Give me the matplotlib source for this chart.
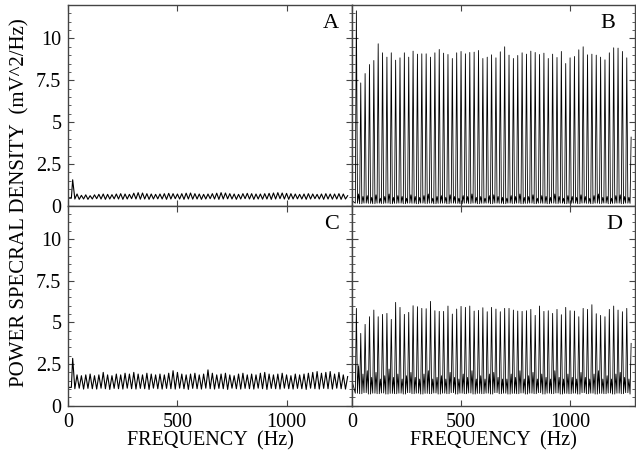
import numpy as np
import matplotlib
matplotlib.use("Agg")
import matplotlib.pyplot as plt
from matplotlib.ticker import MultipleLocator

plt.rcParams["font.family"] = ["Liberation Serif", "DejaVu Serif"]

# harmonic frequencies (Hz) of the spectral peaks
freqs = np.arange(20, 1300, 20)

# panel A: peak and trough values (mV^2/Hz)
A_start = 0.45
A_peaks = [1.55, 0.70, 0.62, 0.65, 0.60, 0.65, 0.68, 0.70, 0.68, 0.66,
           0.70, 0.72, 0.70, 0.68, 0.75, 0.78, 0.76, 0.72, 0.70, 0.68,
           0.70, 0.72, 0.74, 0.72, 0.70, 0.72, 0.75, 0.76, 0.72, 0.70,
           0.68, 0.70, 0.72, 0.75, 0.78, 0.76, 0.72, 0.70, 0.68, 0.72,
           0.74, 0.72, 0.70, 0.70, 0.72, 0.74, 0.76, 0.78, 0.76, 0.74,
           0.72, 0.70, 0.68, 0.70, 0.72, 0.70, 0.68, 0.70, 0.72, 0.70,
           0.70, 0.72, 0.70, 0.60]
A_troughs = [0.40, 0.38, 0.40, 0.38, 0.40, 0.42, 0.40, 0.38, 0.40, 0.41,
             0.40, 0.38, 0.40, 0.42, 0.40, 0.39, 0.40, 0.38, 0.40, 0.41,
             0.40, 0.38, 0.40, 0.42, 0.40, 0.38, 0.40, 0.39, 0.40, 0.38,
             0.40, 0.42, 0.40, 0.38, 0.40, 0.41, 0.40, 0.38, 0.40, 0.42,
             0.40, 0.38, 0.40, 0.39, 0.40, 0.38, 0.40, 0.42, 0.40, 0.38,
             0.40, 0.41, 0.40, 0.38, 0.40, 0.42, 0.40, 0.38, 0.40, 0.39,
             0.40, 0.38, 0.40, 0.42]

# panel C
C_start = 1.10
C_peaks = [2.84, 1.85, 1.80, 1.85, 1.90, 1.80, 1.85, 2.00, 1.85, 1.80,
           1.90, 1.85, 1.95, 1.90, 2.00, 1.90, 1.85, 1.95, 1.90, 1.85,
           1.90, 1.85, 1.95, 2.10, 2.00, 1.90, 1.85, 1.90, 1.95, 1.85,
           1.90, 2.15, 1.95, 1.85, 1.90, 1.95, 1.85, 1.80, 1.90, 1.95,
           1.85, 1.90, 1.85, 1.95, 2.00, 1.90, 1.85, 1.90, 1.95, 1.85,
           1.80, 1.90, 1.85, 1.90, 1.95, 2.00, 2.05, 1.95, 2.00, 2.05,
           1.90, 2.00, 1.85, 1.75]
C_troughs = [1.02, 1.05, 1.00, 1.04, 1.02, 1.00, 1.05, 1.02, 0.98, 1.04,
             1.02, 1.00, 1.05, 1.02, 1.00, 1.04, 1.02, 0.98, 1.05, 1.02,
             1.00, 1.04, 1.02, 1.00, 1.05, 1.02, 0.98, 1.04, 1.02, 1.00,
             1.05, 1.02, 1.00, 1.04, 1.02, 0.98, 1.05, 1.02, 1.00, 1.04,
             1.02, 1.00, 1.05, 1.02, 0.98, 1.04, 1.02, 1.00, 1.05, 1.02,
             1.00, 1.04, 1.02, 0.98, 1.05, 1.02, 1.00, 1.04, 1.02, 1.00,
             1.05, 1.02, 1.00, 1.04]

# panel B: sharp peaks, floor and small side bumps
B_start = 0.30
B_peaks = [11.65, 7.34, 7.90, 8.44, 8.68, 9.68, 9.14, 8.88, 9.14, 8.70,
           8.84, 9.14, 8.88, 9.24, 9.06, 9.08, 9.08, 8.88, 9.14, 9.34,
           9.12, 9.04, 8.80, 9.14, 9.22, 9.08, 9.16, 9.18, 9.28, 8.80,
           8.88, 9.02, 8.84, 9.20, 9.50, 9.00, 8.80, 8.98, 9.14, 9.06,
           9.24, 9.16, 9.04, 9.12, 8.80, 9.06, 8.86, 9.22, 8.50, 8.84,
           8.92, 9.32, 9.50, 9.02, 9.06, 9.00, 8.88, 8.72, 9.14, 9.44,
           9.42, 9.22, 8.84, 4.10]
B_floor = [0.15, 0.12, 0.15, 0.14, 0.12, 0.15, 0.13, 0.15, 0.12, 0.14,
           0.15, 0.12, 0.15, 0.14, 0.12, 0.15, 0.13, 0.15, 0.12, 0.14,
           0.15, 0.12, 0.15, 0.14, 0.12, 0.15, 0.13, 0.15, 0.12, 0.14,
           0.15, 0.12, 0.15, 0.14, 0.12, 0.15, 0.13, 0.15, 0.12, 0.14,
           0.15, 0.12, 0.15, 0.14, 0.12, 0.15, 0.13, 0.15, 0.12, 0.14,
           0.15, 0.12, 0.15, 0.14, 0.12, 0.15, 0.13, 0.15, 0.12, 0.14,
           0.15, 0.12, 0.15, 0.14]
B_bumps = [0.70, 0.55, 0.60, 0.50, 0.65, 0.45, 0.55, 0.70, 0.50, 0.60,
           0.55, 0.45, 0.65, 0.55, 0.50, 0.60, 0.70, 0.45, 0.55, 0.60,
           0.50, 0.65, 0.55, 0.45, 0.60, 0.55, 0.70, 0.50, 0.55, 0.45,
           0.60, 0.65, 0.55, 0.50, 0.45, 0.60, 0.55, 0.70, 0.50, 0.55,
           0.65, 0.45, 0.60, 0.55, 0.50, 0.70, 0.55, 0.45, 0.60, 0.55,
           0.50, 0.65, 0.55, 0.45, 0.60, 0.70, 0.50, 0.55, 0.45, 0.60,
           0.65, 0.55, 0.50, 0.55]

# panel D
D_start = 1.50
D_peaks = [5.84, 4.34, 4.88, 5.34, 5.74, 5.34, 5.48, 5.54, 5.18, 6.20,
           5.90, 5.48, 5.60, 6.00, 5.94, 5.84, 5.82, 6.26, 5.70, 5.66,
           5.66, 5.98, 5.50, 5.80, 5.96, 5.90, 5.98, 5.68, 5.72, 5.88,
           5.64, 5.90, 5.80, 5.64, 5.84, 5.84, 5.74, 5.68, 5.66, 5.70,
           5.78, 5.42, 5.98, 5.66, 5.70, 5.54, 5.78, 5.46, 5.90, 5.70,
           5.68, 5.34, 5.84, 5.78, 6.06, 5.52, 5.42, 5.34, 5.78, 5.98,
           5.74, 5.64, 5.84, 3.74]
D_floor = [0.75, 0.72, 0.78, 0.70, 0.75, 0.72, 0.76, 0.70, 0.74, 0.72,
           0.75, 0.70, 0.78, 0.72, 0.75, 0.70, 0.74, 0.72, 0.76, 0.70,
           0.75, 0.72, 0.78, 0.70, 0.75, 0.72, 0.76, 0.70, 0.74, 0.72,
           0.75, 0.70, 0.78, 0.72, 0.75, 0.70, 0.74, 0.72, 0.76, 0.70,
           0.75, 0.72, 0.78, 0.70, 0.75, 0.72, 0.76, 0.70, 0.74, 0.72,
           0.75, 0.70, 0.78, 0.72, 0.75, 0.70, 0.74, 0.72, 0.76, 0.70,
           0.75, 0.72, 0.78, 0.70]
D_bumps = [2.40, 1.90, 2.10, 1.70, 2.00, 1.60, 1.80, 2.20, 1.70, 1.90,
           1.60, 1.80, 2.00, 1.70, 1.60, 1.90, 2.10, 1.60, 1.70, 1.80,
           1.60, 2.00, 1.70, 1.60, 1.90, 1.70, 2.10, 1.60, 1.80, 1.60,
           1.90, 2.00, 1.70, 1.60, 1.60, 1.90, 1.70, 2.10, 1.60, 1.80,
           2.00, 1.60, 1.90, 1.70, 1.60, 2.10, 1.70, 1.60, 1.90, 1.70,
           1.60, 2.00, 1.70, 1.60, 1.90, 2.10, 1.60, 1.80, 1.60, 1.90,
           2.00, 1.70, 1.60, 1.70]


def zigzag(start, peaks, troughs):
    # smooth ripple: peak at each harmonic, trough half way between
    x = [0.0, 14.0]
    y = [start, start]
    for f, p, t in zip(freqs, peaks, troughs):
        x += [f, f + 10]
        y += [p, t]
    return x[:-1], y[:-1]


def spikes(start, peaks, floor, bumps):
    # narrow lines: floor, peak, floor, small side bump
    x = [0.0]
    y = [start]
    for f, p, lo, b in zip(freqs, peaks, floor, bumps):
        x += [f - 5, f, f + 5, f + 10]
        y += [lo, p, lo, b]
    return x[:-2], y[:-2]


def style_axis(ax, letter, letter_x, show_x, show_y):
    ax.set_xlim(0, 1300)
    ax.set_ylim(0, 12)
    ax.xaxis.set_major_locator(MultipleLocator(500))
    ax.yaxis.set_major_locator(MultipleLocator(2.5))
    ax.yaxis.set_minor_locator(MultipleLocator(0.5))
    ax.yaxis.set_major_formatter(plt.FuncFormatter(lambda v, p: f"{v:g}"))
    ax.tick_params(which="both", direction="in", top=True, right=True,
                   color="#444444", labelsize=14.5, pad=5)
    ax.tick_params(which="major", length=4)
    ax.tick_params(which="minor", length=2.5)
    ax.tick_params(axis="x", which="minor", bottom=False, top=False)
    if not show_x:
        ax.tick_params(labelbottom=False)
    if not show_y:
        ax.tick_params(labelleft=False)
    for s in ax.spines.values():
        s.set_color("#444444")
        s.set_linewidth(1.0)
    ax.text(letter_x, 0.955, letter, transform=ax.transAxes, ha="right",
            va="top", fontsize=16)
    if show_x:
        ax.set_xlabel("FREQUENCY  (Hz)", fontsize=14.5, labelpad=0)


fig = plt.figure(figsize=(6.36, 4.51), dpi=100)
x0, xm, x1 = 0.1074, 0.5535, 0.9992
y0, ym, y1 = 0.1004, 0.5439, 0.989
axA = fig.add_axes([x0, ym, xm - x0, y1 - ym])
axB = fig.add_axes([xm, ym, x1 - xm, y1 - ym])
axC = fig.add_axes([x0, y0, xm - x0, ym - y0])
axD = fig.add_axes([xm, y0, x1 - xm, ym - y0])

axA.plot(*zigzag(A_start, A_peaks, A_troughs), color="black", lw=0.8)
axC.plot(*zigzag(C_start, C_peaks, C_troughs), color="black", lw=0.8)
axB.plot(*spikes(B_start, B_peaks, B_floor, B_bumps), color="black", lw=0.6)
axD.plot(*spikes(D_start, D_peaks, D_floor, D_bumps), color="black", lw=0.6)

style_axis(axA, "A", 0.955, False, True)
style_axis(axB, "B", 0.93, False, False)
style_axis(axC, "C", 0.955, True, True)
style_axis(axD, "D", 0.955, True, False)

fig.text(0.032, 0.55, "POWER SPECRAL DENSITY  (mV^2/Hz)", rotation=90,
         ha="center", va="center", fontsize=15)

fig.savefig("out.png", dpi=100)
